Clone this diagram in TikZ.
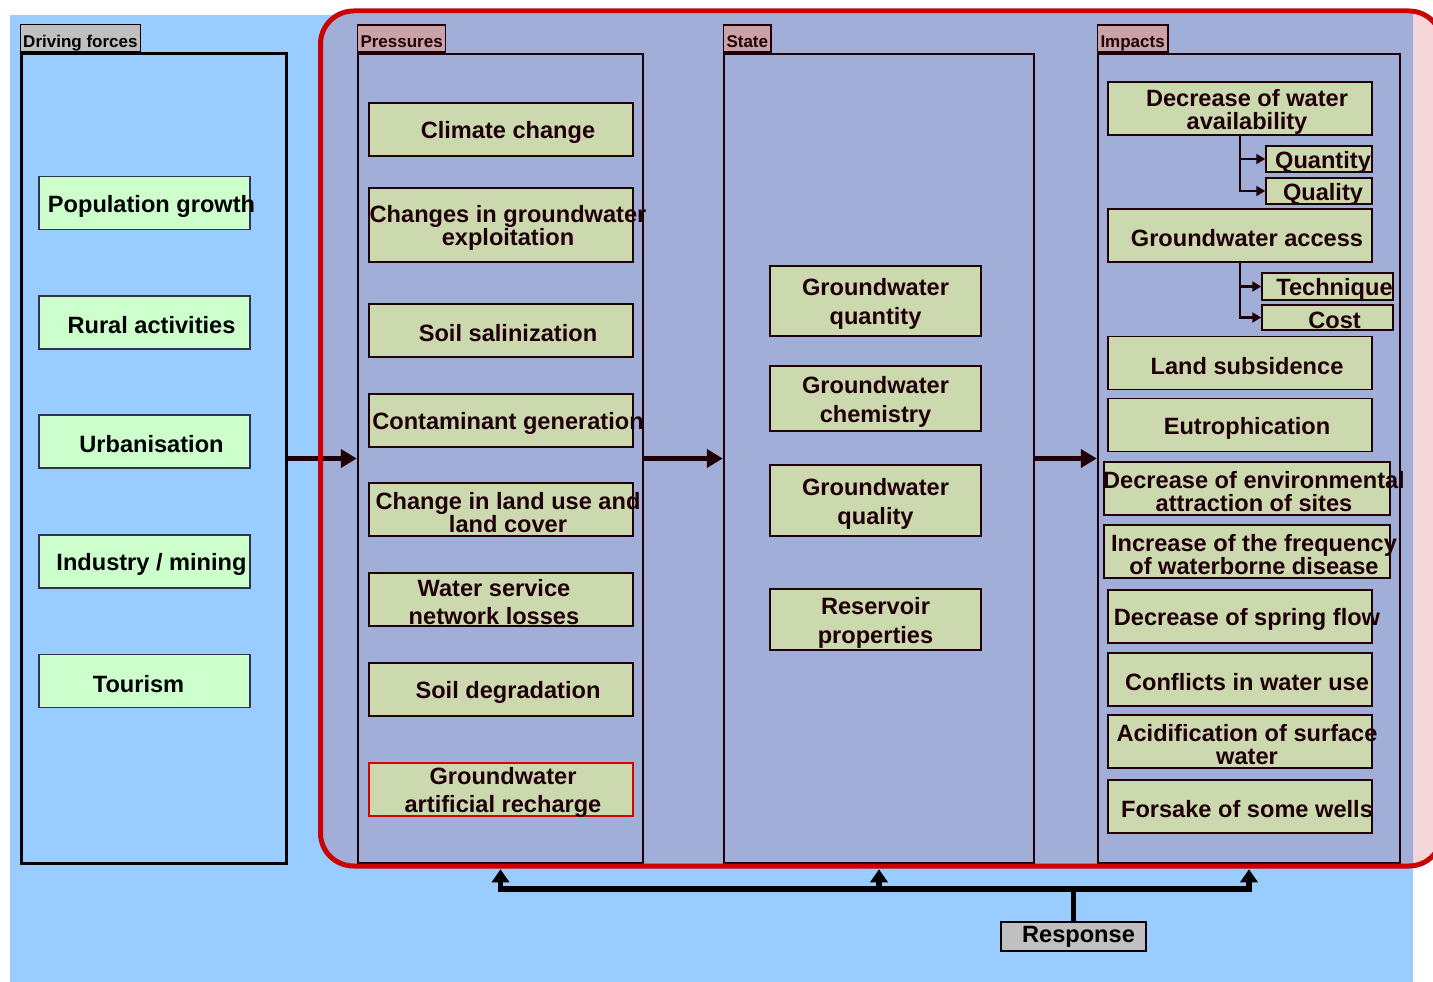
\documentclass[tikz,border=0pt]{standalone}
\usepackage{fontspec}
\setmainfont{Liberation Sans}
\usetikzlibrary{arrows.meta}

\definecolor{skyblue}{HTML}{99CCFF}
\definecolor{frameblue}{HTML}{A0AED8}
\definecolor{framepink}{HTML}{F5D6D9}
\definecolor{framered}{HTML}{CC0000}
\definecolor{dfgreen}{HTML}{CCFFCC}
\definecolor{dfedge}{HTML}{33334D}
\definecolor{boxkhaki}{HTML}{CCD9AF}
\definecolor{tabgrey}{HTML}{C0C0C0}
\definecolor{tabrose}{HTML}{C9A3A8}
\definecolor{inkbrown}{HTML}{200008}

\newcommand\boxfont{\fontsize{23.6}{23}\selectfont\bfseries}
\newcommand\tabfont{\fontsize{17}{17}\selectfont\bfseries}

\begin{document}
\begin{tikzpicture}[x=1pt, y=-1pt,
    every label/.style={xshift=7pt, yshift=-3pt, align=center, font=\boxfont, text=inkbrown, inner sep=0pt}]

      \tikzstyle{panel}=[draw=inkbrown, line width=2.5pt, minimum height=809pt, inner sep=0pt]
      \tikzstyle{tab}=[draw=inkbrown, line width=1.5pt, fill=tabrose, font=\tabfont,
                       text=inkbrown, inner xsep=3pt, inner ysep=0pt, text height=23pt,
                       text depth=4pt, anchor=south west]
      \tikzstyle{dfbox}=[draw=dfedge, line width=1.5pt, fill=dfgreen, minimum width=211pt,
                         minimum height=53pt, inner sep=0pt]
      \tikzstyle{pbox}=[draw=inkbrown, line width=1.5pt, fill=boxkhaki, minimum width=264pt,
                        minimum height=53pt, inner sep=0pt]
      \tikzstyle{sbox}=[pbox, minimum width=211pt]
      \tikzstyle{bigarrow}=[draw=inkbrown, line width=5pt, -{Triangle[width=18pt,length=16pt]}]
      \tikzstyle{subarrow}=[draw=inkbrown, line width=2.5pt, -{Triangle[width=10pt,length=9pt]}]
      \tikzstyle{resline}=[draw=black, line width=5.5pt]
      \tikzstyle{resarrow}=[resline, -{Triangle[width=17pt,length=13pt]}, shorten >=5pt]

      \useasboundingbox (0,0) rectangle (1433,982);
      \clip (0,0) rectangle (1433,982);

      % background and the red frame around pressures, state and impacts
      \fill[white] (0,0) rectangle (1433,982);
      \fill[skyblue] (10,15) rectangle (1413,982);
      \fill[framepink, rounded corners=33pt] (320.5,11) rectangle (1442,866);
      \begin{scope}
        \clip (10,15) rectangle (1413,982);
        \fill[frameblue, rounded corners=33pt] (320.5,11) rectangle (1442,866);
      \end{scope}

      % driving forces
      \node[panel, draw=black, line width=3pt, minimum width=265pt] (drv) at (153.5,458.5) {};
      \node[tab, fill=tabgrey, draw=black, text=black] (drvtab) at (drv.north west) {Driving forces};

      \node[dfbox, label={[text=black]center:Population growth}] (pop) at (144.5,203) {};
      \node[dfbox, label={[text=black]center:Rural activities}] (rur) at (144.5,322.5) {};
      \node[dfbox, label={[text=black]center:Urbanisation}] (urb) at (144.5,441.5) {};
      \node[dfbox, label={[text=black]center:Industry / mining}] (ind) at (144.5,561.5) {};
      \node[dfbox, label={[text=black, xshift=-13pt]center:Tourism}] (tou) at (144.5,681) {};

      % pressures
      \node[panel, minimum width=285pt] (prs) at (500.5,458.5) {};
      \node[tab] (prstab) at (prs.north west) {Pressures};

      \node[pbox, label=center:Climate change] (clc) at (501,129.5) {};
      \node[pbox, minimum height=74pt,
            label={center:{Changes in groundwater\\exploitation}}] (cge) at (501,225) {};
      \node[pbox, label=center:Soil salinization] (ssl) at (501,330.5) {};
      \node[pbox, label=center:Contaminant generation] (cgn) at (501,420.5) {};
      \node[pbox, label={center:{Change in land use and\\land cover}}] (clu) at (501,509.5) {};
      \node[pbox, label={[xshift=-14pt]center:{Water service\\[5pt]network losses}}] (wsn) at (501,599.5) {};
      \node[pbox, label=center:Soil degradation] (sdg) at (501,689.5) {};
      \node[pbox, draw=red!85!black, label={[xshift=-5pt]center:{Groundwater\\[5pt]artificial recharge}}] (gar) at (501,789.5) {};

      % state
      \node[panel, minimum width=310pt] (ste) at (879,458.5) {};
      \node[tab] (stetab) at (ste.north west) {State};

      \node[sbox, minimum height=70pt, label={[xshift=-7pt]center:{Groundwater\\[6pt]quantity}}] (gqn) at (875.5,301) {};
      \node[sbox, minimum height=65pt, label={[xshift=-7pt]center:{Groundwater\\[6pt]chemistry}}] (gch) at (875.5,398.5) {};
      \node[sbox, minimum height=71pt, label={[xshift=-7pt]center:{Groundwater\\[6pt]quality}}] (gql) at (875.5,500.5) {};
      \node[sbox, minimum height=61pt, label={[xshift=-7pt]center:{Reservoir\\[6pt]properties}}] (rsv) at (875.5,619.5) {};

      % impacts
      \node[panel, minimum width=302pt] (imp) at (1249,458.5) {};
      \node[tab] (imptab) at (imp.north west) {Impacts};

      \node[pbox, label={center:{Decrease of water\\availability}}] (dwa) at (1240,108.5) {};
      \node[pbox, minimum width=106pt, minimum height=26pt, label={[xshift=-3pt]center:Quantity}] (qnt) at (1319,159) {};
      \node[pbox, minimum width=106pt, minimum height=26pt, label={[xshift=-3pt]center:Quality}] (qlt) at (1319,191) {};
      \node[pbox, label=center:Groundwater access] (gwa) at (1240,235.5) {};
      \node[pbox, minimum width=131pt, minimum height=27pt, label=center:Technique] (tec) at (1327.5,286.5) {};
      \node[pbox, minimum width=131pt, minimum height=25pt, label=center:Cost] (cst) at (1327.5,317.5) {};
      \node[pbox, label=center:Land subsidence] (lsb) at (1240,363) {};
      \node[pbox, label=center:Eutrophication] (eut) at (1240,425) {};
      \node[pbox, minimum width=286pt, label={center:{Decrease of environmental\\attraction of sites}}] (dea) at (1247,488.5) {};
      \node[pbox, minimum width=286pt, label={center:{Increase of the frequency\\of waterborne disease}}] (ifw) at (1247,551.5) {};
      \node[pbox, label=center:Decrease of spring flow] (dsf) at (1240,616.5) {};
      \node[pbox, label=center:Conflicts in water use] (cwu) at (1240,679.5) {};
      \node[pbox, label={center:{Acidification of surface\\water}}] (asw) at (1240,741.5) {};
      \node[pbox, label=center:Forsake of some wells] (fsw) at (1240,806.5) {};

      \draw[subarrow] (dwa.south) |- (qnt.west);
      \draw[subarrow] (dwa.south) |- (qlt.west);
      \draw[subarrow] (gwa.south) |- (tec.west);
      \draw[subarrow] (gwa.south) |- (cst.west);

      % chain of the four panels
      \draw[bigarrow] (drv.east) -- (prs.west);
      \draw[bigarrow] (prs.east) -- (ste.west);
      \draw[bigarrow] (ste.east) -- (imp.west);

      \draw[framered, line width=5pt, rounded corners=33pt] (320.5,11) rectangle (1442,866);

      % response
      \node[draw=black, line width=2.5pt, fill=tabgrey, font=\boxfont, text=black,
            minimum width=145pt, minimum height=29pt, inner sep=0pt] (resp) at (1073.5,936.5) {\hspace{10pt}Response};
      \coordinate (rjy) at (0,889);
      \coordinate (rj) at (resp.north |- rjy);

      \draw[resline] (resp.north) -- (rj);
      \draw[resarrow] (rj) -| (prs.south);
      \draw[resarrow] (rj) -| (ste.south);
      \draw[resarrow] (rj) -| (imp.south);

    \end{tikzpicture}
\end{document}
